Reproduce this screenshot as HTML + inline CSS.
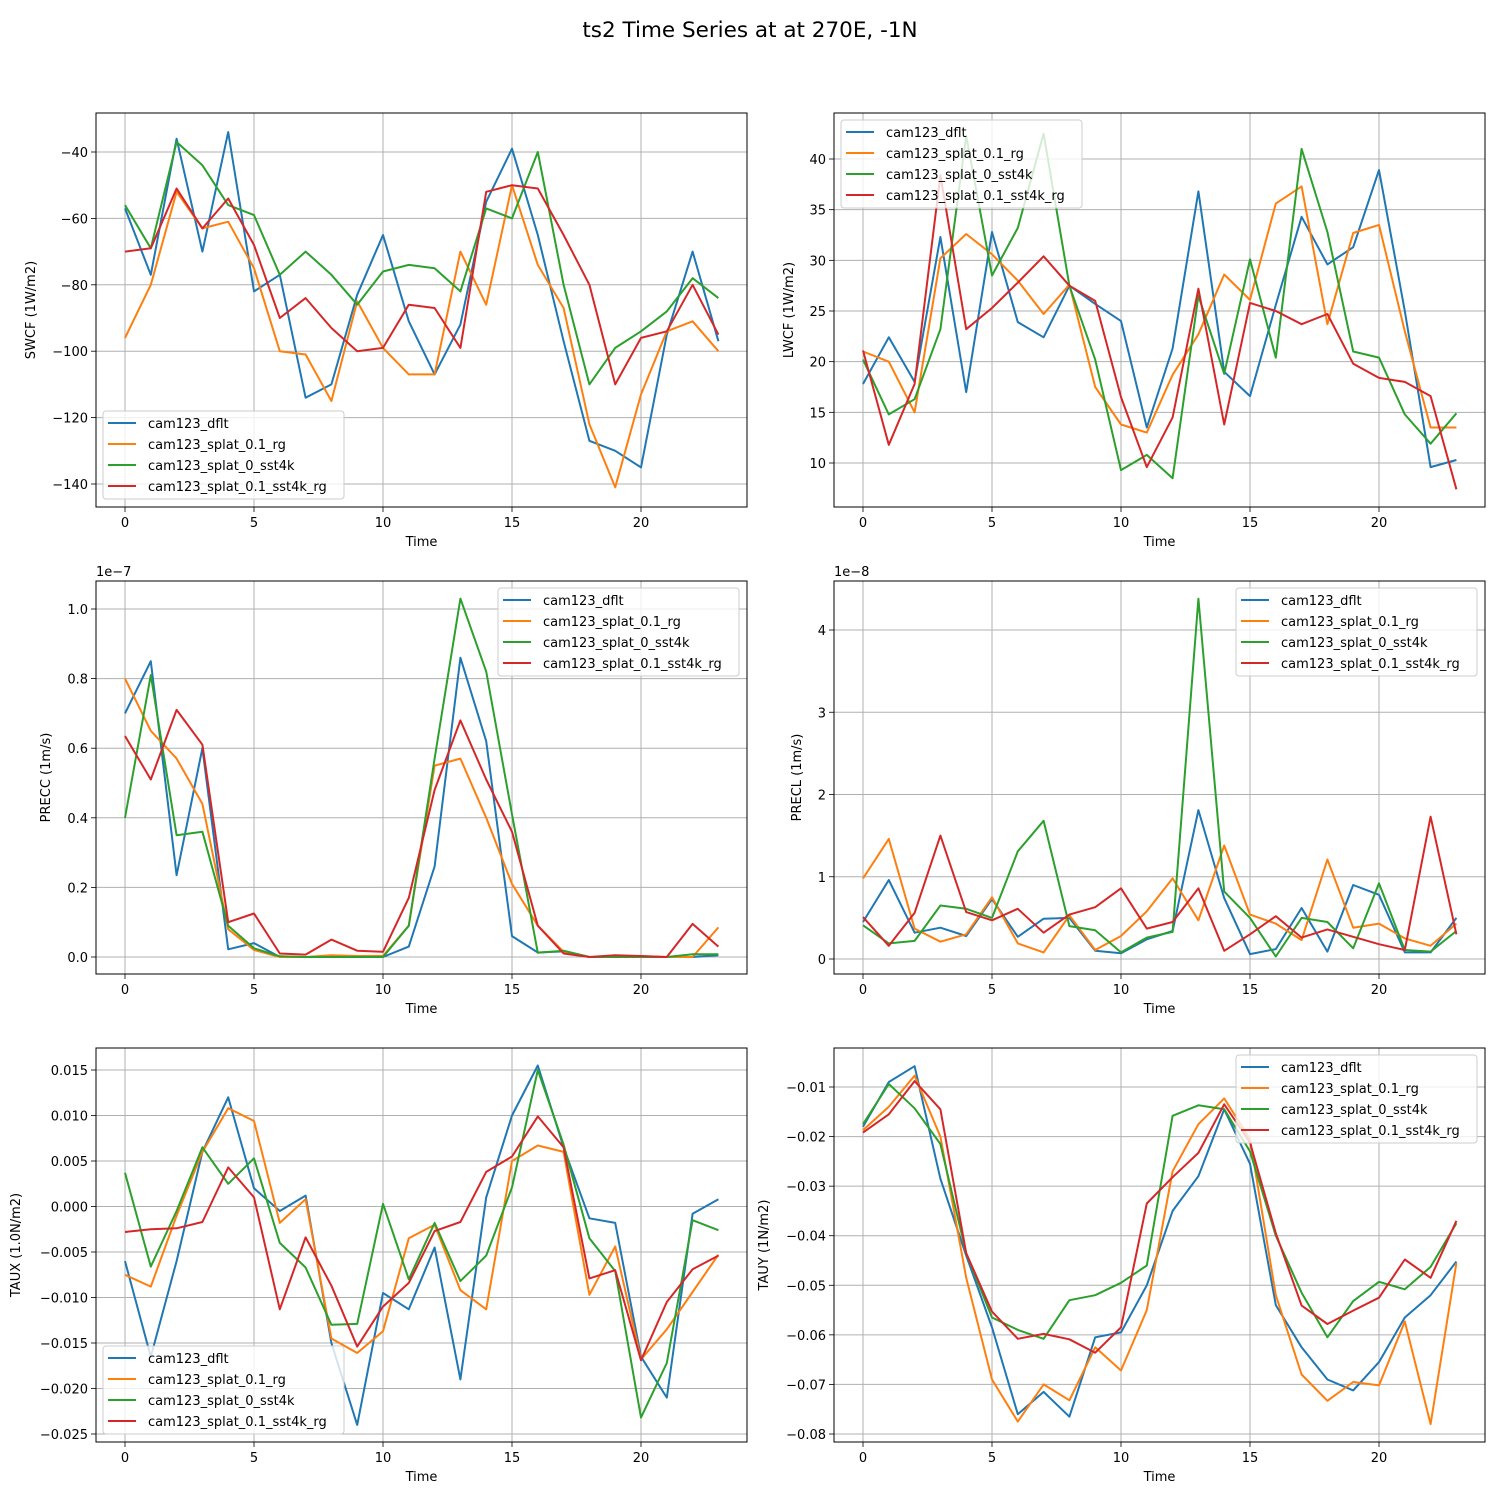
<!DOCTYPE html>
<html><head><meta charset="utf-8"><style>
body{margin:0;background:#fff}
svg text{font-family:"DejaVu Sans","Liberation Sans",sans-serif;fill:#000}
</style></head><body>
<svg id="fig" width="1500" height="1500" xmlns="http://www.w3.org/2000/svg">
<rect width="1500" height="1500" fill="#fff"/>
<text x="750" y="37" font-size="21.5" text-anchor="middle">ts2 Time Series at at 270E, -1N</text>
</svg>
<script>
const seriesNames = ["cam123_dflt","cam123_splat_0.1_rg","cam123_splat_0_sst4k","cam123_splat_0.1_sst4k_rg"];
const colors = ["#1f77b4","#ff7f0e","#2ca02c","#d62728"];
const timeTicks = [0,5,10,15,20];

const swcfDflt = [-57,-77,-36,-70,-34,-82,-77,-114,-110,-83,-65,-91,-107,-92,-55,-39,-65,-97,-127,-130,-135,-95,-70,-97];
const swcfRg = [-96,-80,-52,-63,-61,-75,-100,-101,-115,-85,-99,-107,-107,-70,-86,-50,-74,-87,-122,-141,-113,-94,-91,-100];
const swcfSst4k = [-56,-69,-37,-44,-56,-59,-77,-70,-77,-86,-76,-74,-75,-82,-57,-60,-40,-80,-110,-99,-94,-88,-78,-84];
const swcfSst4kRg = [-70,-69,-51,-63,-54,-68,-90,-84,-93,-100,-99,-86,-87,-99,-52,-50,-51,-65,-80,-110,-96,-94,-80,-95];

const lwcfDflt = [17.8,22.4,18,32.3,17,32.8,23.9,22.4,27.5,25.7,24,13.5,21.3,36.8,19,16.6,25.6,34.3,29.6,31.3,38.9,25,9.6,10.3];
const lwcfRg = [21,20,15,30.2,32.6,30.6,28,24.7,27.6,17.5,13.8,13,18.7,22.7,28.6,26.1,35.6,37.3,23.7,32.7,33.5,23,13.5,13.5];
const lwcfSst4k = [20.2,14.8,16.3,23.2,42.3,28.5,33.2,42.5,27.5,20.2,9.3,10.8,8.5,26.5,18.8,30.1,20.4,41,32.8,21,20.4,14.8,11.9,14.9];
const lwcfSst4kRg = [21.1,11.8,17.8,38.4,23.2,25.3,27.8,30.4,27.5,26,16.5,9.6,14.5,27.2,13.8,25.8,25,23.7,24.7,19.8,18.4,18,16.6,7.4];

const preccDflt = [.70,.85,.235,.60,.022,.04,0,0,0,0,0,.03,.26,.86,.62,.06,.013,.016,0,0,0,0,0,.005];
const preccRg = [.80,.65,.57,.44,.08,.02,0,0,.005,.003,.003,.09,.55,.57,.40,.21,.09,.015,0,.002,.002,0,0,.085];
const preccSst4k = [.40,.81,.35,.36,.09,.025,.002,0,0,0,0,.09,.57,1.03,.82,.41,.012,.018,0,0,0,0,.008,.008];
const preccSst4kRg = [.635,.51,.71,.61,.10,.125,.01,.007,.05,.018,.015,.17,.48,.68,.51,.36,.09,.01,0,.005,.003,0,.095,.03];

const preclDflt = [.45,.96,.32,.38,.28,.73,.27,.49,.50,.1,.07,.24,.34,1.81,.74,.06,.12,.62,.09,.90,.78,.08,.08,.50];
const preclRg = [.98,1.46,.37,.21,.30,.75,.19,.08,.53,.11,.28,.58,.98,.47,1.38,.54,.43,.23,1.21,.38,.43,.25,.16,.43];
const preclSst4k = [.41,.19,.22,.65,.61,.50,1.31,1.68,.40,.35,.08,.26,.33,4.38,.82,.50,.03,.50,.45,.13,.92,.11,.09,.34];
const preclSst4kRg = [.51,.16,.56,1.5,.57,.47,.61,.32,.54,.63,.86,.37,.45,.86,.10,.30,.52,.26,.36,.27,.18,.11,1.73,.30];

const tauxDflt = [-.006,-.0165,-.006,.006,.012,.002,-.0005,.0012,-.015,-.024,-.0095,-.0113,-.0045,-.019,.001,.010,.0155,.0065,-.0013,-.0018,-.0165,-.021,-.0008,.0008];
const tauxRg = [-.0075,-.0088,-.001,.006,.0108,.0094,-.0018,.0008,-.0145,-.0161,-.0137,-.0035,-.002,-.0092,-.0113,.005,.0067,.006,-.0097,-.0044,-.0168,-.0135,-.0094,-.0053];
const tauxSst4k = [.0037,-.0066,-.0005,.0065,.0025,.0053,-.004,-.0067,-.013,-.0129,.0003,-.008,-.0018,-.0082,-.0054,.0021,.015,.0068,-.0035,-.0071,-.0232,-.0172,-.0015,-.0026];
const tauxSst4kRg = [-.0028,-.0025,-.0024,-.0017,.0043,.001,-.0113,-.0034,-.0087,-.0154,-.011,-.0084,-.0027,-.0017,.0038,.0055,.0099,.0065,-.0079,-.007,-.0169,-.0105,-.0069,-.0054];

const tauyDflt = [-.018,-.009,-.0058,-.0285,-.044,-.0585,-.076,-.0715,-.0765,-.0605,-.0595,-.05,-.035,-.028,-.0145,-.0255,-.054,-.0625,-.069,-.0712,-.0655,-.0565,-.052,-.0452];
const tauyRg = [-.0187,-.014,-.0077,-.02,-.0485,-.069,-.0775,-.070,-.0732,-.0625,-.0672,-.055,-.027,-.0175,-.0123,-.0205,-.052,-.068,-.0733,-.0695,-.0702,-.0573,-.078,-.0455];
const tauySst4k = [-.0175,-.0094,-.0143,-.0215,-.0435,-.0565,-.059,-.0608,-.053,-.052,-.0495,-.046,-.0158,-.0137,-.0145,-.023,-.040,-.0515,-.0605,-.0532,-.0493,-.0508,-.0463,-.0375];
const tauySst4kRg = [-.0192,-.0155,-.0088,-.0145,-.0435,-.0553,-.0608,-.0598,-.0609,-.0636,-.0585,-.0335,-.0282,-.0233,-.0135,-.0212,-.0395,-.0541,-.0578,-.0551,-.0525,-.0448,-.0485,-.037];

const swcfTicks = [-40,-60,-80,-100,-120,-140];
const lwcfTicks = [10,15,20,25,30,35,40];
const preccTicks = [0,0.2,0.4,0.6,0.8,1.0];
const preclTicks = [0,1,2,3,4];
const tauxTicks = [0.015,0.010,0.005,0,-0.005,-0.010,-0.015,-0.020,-0.025];
const tauyTicks = [-0.01,-0.02,-0.03,-0.04,-0.05,-0.06,-0.07,-0.08];

const NS="http://www.w3.org/2000/svg";
const svg=document.getElementById('fig');
function mk(tag,attrs,parent){const e=document.createElementNS(NS,tag);for(const k in attrs)e.setAttribute(k,attrs[k]);(parent||svg).appendChild(e);return e;}
function fmt(v,d){const s=Math.abs(v).toFixed(d);return (v<0&&Number(s)!==0?"\u2212":"")+s;}

const panels=[
 {id:'swcf',x0:96,x1:747,y0:113,y1:507,ref:[-40,152,-140,484],ticks:swcfTicks,dec:0,label:'SWCF (1W/m2)',lx:35,data:[swcfDflt,swcfRg,swcfSst4k,swcfSst4kRg],leg:[103,411]},
 {id:'lwcf',x0:834,x1:1485,y0:113,y1:507,ref:[10,463,40,159],ticks:lwcfTicks,dec:0,label:'LWCF (1W/m2)',lx:793,data:[lwcfDflt,lwcfRg,lwcfSst4k,lwcfSst4kRg],leg:[841,120]},
 {id:'precc',x0:96,x1:747,y0:581,y1:974,ref:[0,957,1.0,609],ticks:preccTicks,dec:1,label:'PRECC (1m/s)',lx:50,data:[preccDflt,preccRg,preccSst4k,preccSst4kRg],leg:[498,588],offset:'1e\u22127'},
 {id:'precl',x0:834,x1:1485,y0:581,y1:974,ref:[0,959,4,630],ticks:preclTicks,dec:0,label:'PRECL (1m/s)',lx:801,data:[preclDflt,preclRg,preclSst4k,preclSst4kRg],leg:[1236,588],offset:'1e\u22128'},
 {id:'taux',x0:96,x1:747,y0:1048,y1:1442,ref:[0.015,1070,-0.025,1434],ticks:tauxTicks,dec:3,label:'TAUX (1.0N/m2)',lx:20,data:[tauxDflt,tauxRg,tauxSst4k,tauxSst4kRg],leg:[103,1346]},
 {id:'tauy',x0:834,x1:1485,y0:1048,y1:1442,ref:[-0.01,1087,-0.08,1434],ticks:tauyTicks,dec:2,label:'TAUY (1N/m2)',lx:768,data:[tauyDflt,tauyRg,tauySst4k,tauySst4kRg],leg:[1236,1055]}
];

panels.forEach(p=>{
  const g=mk('g',{});
  
  
  const xs=t=>p.x0+29+t*25.8;
  const [v1,py1,v2,py2]=p.ref;
  const ys=v=>py1+(v-v1)*(py2-py1)/(v2-v1);
  timeTicks.forEach(t=>{
    const x=xs(t);
    const l=mk('line',{x1:x,x2:x,y1:p.y0,y2:p.y1,stroke:'#b0b0b0','stroke-width':1},g);
    
    
    mk('line',{x1:x,x2:x,y1:p.y1,y2:p.y1+5,stroke:'#000','stroke-width':0.8},g);
    const tx=mk('text',{x:x,y:p.y1+20,'font-size':13,'text-anchor':'middle'},g);
    tx.textContent=t;
    
    
  });
  p.ticks.forEach(v=>{
    const y=ys(v);
    const l=mk('line',{x1:p.x0,x2:p.x1,y1:y,y2:y,stroke:'#b0b0b0','stroke-width':1},g);
    
    
    mk('line',{x1:p.x0-5,x2:p.x0,y1:y,y2:y,stroke:'#000','stroke-width':0.8},g);
    const tx=mk('text',{x:p.x0-8,y:y+5,'font-size':13,'text-anchor':'end'},g);
    tx.textContent=fmt(v,p.dec);
    
    
  });
  p.data.forEach((arr,i)=>{
    const pts=arr.map((v,t)=>xs(t).toFixed(1)+','+ys(v).toFixed(1)).join(' ');
    const pl=mk('polyline',{points:pts,fill:'none',stroke:colors[i],'stroke-width':2,'stroke-linejoin':'round'},g);
    
    
  });
  const fr=mk('rect',{x:p.x0,y:p.y0,width:p.x1-p.x0,height:p.y1-p.y0,fill:'none',stroke:'#000','stroke-width':1},g);
  
  
  const xl=mk('text',{x:(p.x0+p.x1)/2,y:p.y1+39,'font-size':13,'text-anchor':'middle'},g);
  xl.textContent='Time';
  
  
  const yl=mk('text',{x:p.lx,y:(p.y0+p.y1)/2,'font-size':13,'text-anchor':'middle',transform:'rotate(-90 '+p.lx+' '+(p.y0+p.y1)/2+')'},g);
  yl.textContent=p.label;
  
  
  if(p.offset){
    const o=mk('text',{x:p.x0,y:p.y0-5,'font-size':13},g);
    o.textContent=p.offset;
    
    
  }
  const [lx,ly]=p.leg;
  const lg=mk('g',{},g);
  
  
  mk('rect',{x:lx,y:ly,width:241,height:88,rx:3,fill:'#fff','fill-opacity':0.8,stroke:'#ccc','stroke-width':1},lg);
  seriesNames.forEach((n,i)=>{
    const yy=ly+12+i*21;
    mk('line',{x1:lx+5,x2:lx+33,y1:yy,y2:yy,stroke:colors[i],'stroke-width':2},lg);
    const t=mk('text',{x:lx+45,y:yy+5,'font-size':13},lg);
    t.textContent=n;
    
    
  });
});
</script>
</body></html>
